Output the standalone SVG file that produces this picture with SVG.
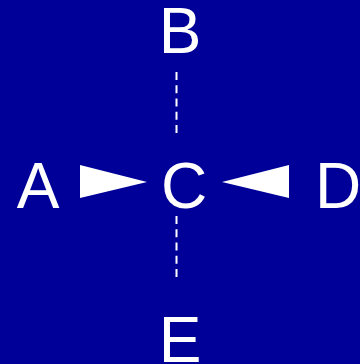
<svg xmlns="http://www.w3.org/2000/svg" width="360" height="364" viewBox="0 0 360 364">
<style>
.lbl{font-family:"Liberation Sans",Arial,sans-serif;font-size:64px;fill:#fff;text-anchor:middle}
.dash{stroke:#fff;stroke-width:2;stroke-dasharray:8 5.25;fill:none}
.head{fill:#fff}
</style>
<rect width="360" height="364" fill="#000099"/>
<g id="connectors">
<line class="dash" x1="176.5" y1="72" x2="176.5" y2="133.5"/>
<line class="dash" x1="176.5" y1="216" x2="176.5" y2="277"/>
<polygon class="head" points="80,165 147,182 80,198"/>
<polygon class="head" points="289,165 222,182 289,198"/>
</g>
<g id="A"><text class="lbl" x="38" y="208">A</text></g>
<g id="B"><text class="lbl" x="180" y="53">B</text></g>
<g id="C"><text class="lbl" x="184" y="208">C</text></g>
<g id="D"><text class="lbl" x="338" y="208">D</text></g>
<g id="E"><text class="lbl" x="180" y="362">E</text></g>
</svg>
